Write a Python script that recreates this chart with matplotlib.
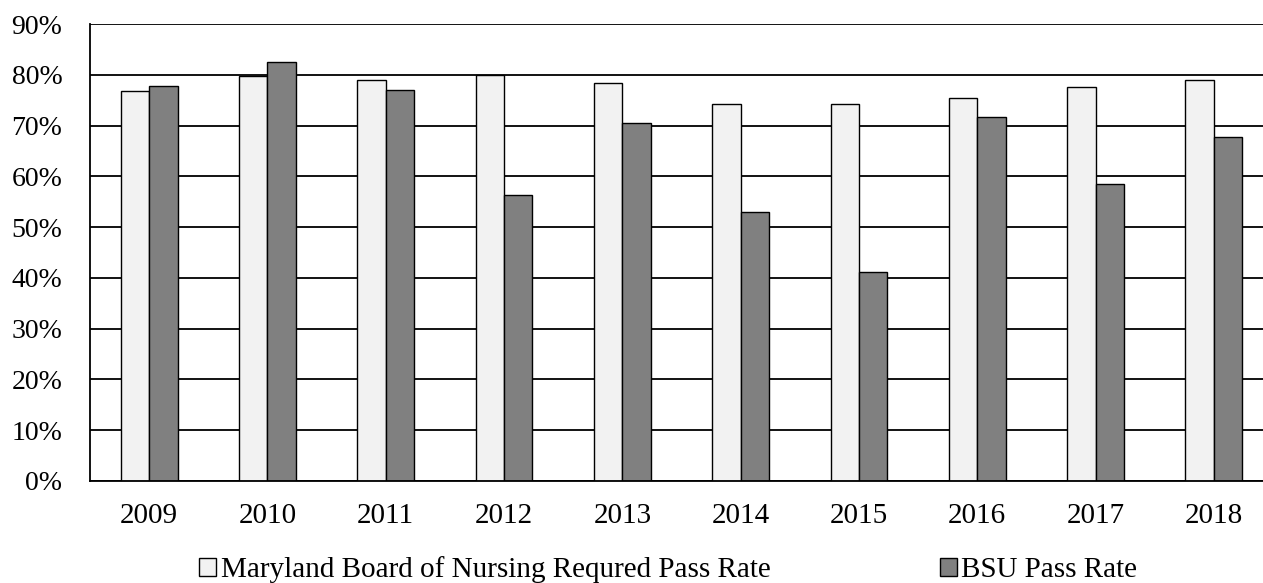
import matplotlib
matplotlib.use("Agg")
import matplotlib.pyplot as plt
import matplotlib.ticker as mticker
import numpy as np

plt.rcParams.update({
    "font.family": ["Liberation Serif", "DejaVu Serif"],
    "font.size": 20,
})

YEARS = ["2009", "2010", "2011", "2012", "2013", "2014", "2015", "2016", "2017", "2018"]
MBON_RATE = [0.769, 0.797, 0.789, 0.800, 0.783, 0.742, 0.742, 0.755, 0.775, 0.789]
BSU_RATE = [0.777, 0.826, 0.771, 0.563, 0.706, 0.529, 0.411, 0.716, 0.585, 0.678]

LABELS = ["Maryland Board of Nursing Requred Pass Rate", "BSU Pass Rate"]
COLORS = ["#f2f2f2", "#808080"]

fig = plt.figure(figsize=(12.63, 5.83), dpi=100)
ax = fig.add_axes([0.0713, 0.175, 0.9366, 0.7838])

x = np.arange(len(YEARS))
w = 0.24
bars1 = ax.bar(x - w / 2, MBON_RATE, w, color=COLORS[0], edgecolor="black",
               linewidth=1.0, zorder=3, label=LABELS[0])
bars2 = ax.bar(x + w / 2, BSU_RATE, w, color=COLORS[1], edgecolor="black",
               linewidth=1.0, zorder=3, label=LABELS[1])

ax.set_xlim(-0.5, len(YEARS) - 0.5)
ax.set_ylim(0, 0.9)
ax.set_yticks(np.arange(0, 0.91, 0.1))
ax.yaxis.set_major_formatter(mticker.FuncFormatter(lambda v, _: f"{v * 100:.0f}%"))
ax.set_xticks(x)
ax.set_xticklabels(YEARS, fontsize=21)
ax.tick_params(axis="both", length=0)
ax.tick_params(axis="y", pad=20)
ax.tick_params(axis="x", pad=16)

ax.grid(axis="y", color="black", linewidth=1.3, zorder=0)
ax.set_axisbelow(True)
for side in ["top", "right"]:
    ax.spines[side].set_visible(False)
for side in ["left", "bottom"]:
    ax.spines[side].set_linewidth(1.3)
    ax.spines[side].set_zorder(4)

fig.legend(handles=[bars1, bars2], labels=LABELS, ncol=2, frameon=False,
           loc="center", bbox_to_anchor=(0.529, 0.023),
           handlelength=0.58, handleheight=0.58, handletextpad=0.17,
           columnspacing=5.8, fontsize=21)

fig.savefig("out.png", dpi=100)
